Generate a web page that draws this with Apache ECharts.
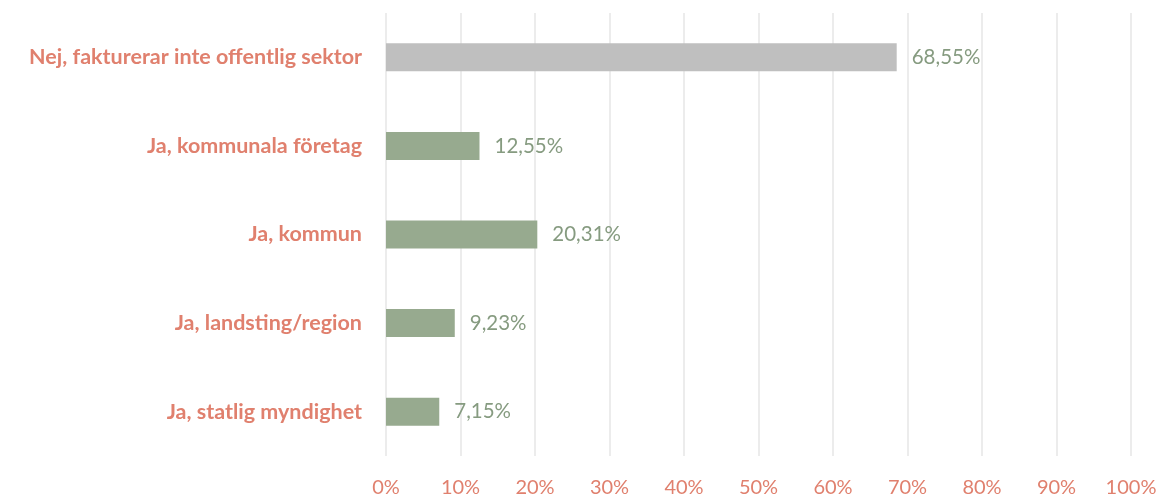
<!DOCTYPE html>
<html>
<head>
<meta charset="utf-8">
<script src="https://cdn.jsdelivr.net/npm/echarts@6/dist/echarts.min.js"></script>
<style>
  html, body { margin: 0; padding: 0; background: #fff; }
  #chart { width: 1161px; height: 499px; }
</style>
</head>
<body>
<div id="chart"></div>
<script>
// categories listed bottom to top (category axis on y starts at bottom)
const categories = [
  'Ja, statlig myndighet',
  'Ja, landsting/region',
  'Ja, kommun',
  'Ja, kommunala företag',
  'Nej, fakturerar inte offentlig sektor'
]
const values = [7.15, 9.23, 20.31, 12.55, 68.55]
const barColors = ['#97AA8F', '#97AA8F', '#97AA8F', '#97AA8F', '#BFBFBF']
const tickLabels = ['0%', '10%', '20%', '30%', '40%', '50%', '60%', '70%', '80%', '90%', '100%']

const font = 'Lato, "Open Sans", sans-serif'
const chart = echarts.init(document.getElementById('chart'))

chart.setOption({
  animation: false,
  grid: {
    left: 386,
    right: 30,
    top: 13,
    bottom: 43,
    containLabel: false
  },
  xAxis: {
    type: 'value',
    min: 0,
    max: 100,
    interval: 10,
    axisLine: { show: false },
    axisTick: { show: false },
    splitLine: { lineStyle: { color: '#E6E6E6', width: 1.5 } },
    axisLabel: {
      color: '#E0806E',
      fontFamily: font,
      fontSize: 20,
      margin: 22,
      formatter: function(v) {
        return tickLabels[Math.round(v / 10)]
      }
    }
  },
  yAxis: {
    type: 'category',
    data: categories,
    axisLine: { show: false },
    axisTick: { show: false },
    axisLabel: {
      color: '#E0806E',
      fontFamily: font,
      fontWeight: 'bold',
      fontSize: 21.5,
      margin: 24
    }
  },
  series: [
    {
      type: 'bar',
      barWidth: 28,
      data: values.map(function(v, i) {
        return { value: v, itemStyle: { color: barColors[i] } }
      }),
      label: {
        show: true,
        position: 'right',
        distance: 15,
        color: '#869B80',
        fontFamily: font,
        fontSize: 20.5,
        formatter: function(p) {
          return p.value.toFixed(2).replace('.', ',') + '%'
        }
      }
    }
  ]
})
</script>
</body>
</html>
